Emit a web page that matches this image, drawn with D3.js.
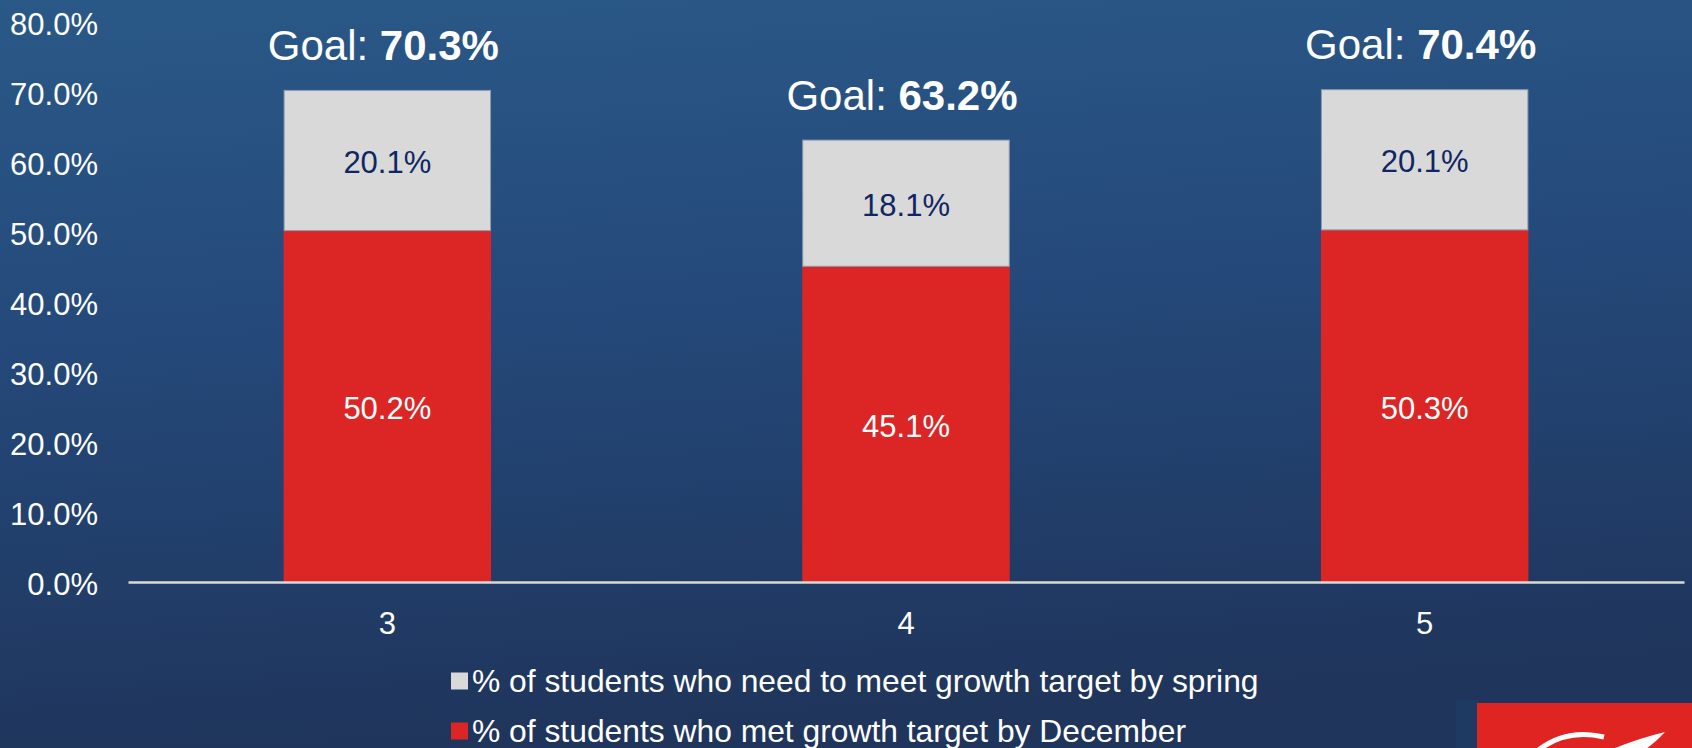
<!DOCTYPE html>
<html>
<head>
<meta charset="utf-8">
<script src="https://cdn.jsdelivr.net/npm/d3@7"></script>
<style>
  html, body { margin: 0; padding: 0; background: #22416a; }
  svg { display: block; font-family: Arial, "Liberation Sans", sans-serif; }
</style>
</head>
<body>
<svg id="chart" width="1692" height="748"></svg>
<script>
// ---- data ----
const categories = ["3", "4", "5"];
const metByDecember = [50.2, 45.1, 50.3];
const needBySpring = [20.1, 18.1, 20.1];
const goals = ["70.3%", "63.2%", "70.4%"];
const yTicks = [0, 10, 20, 30, 40, 50, 60, 70, 80];
const seriesNames = [
  "% of students who need to meet growth target by spring",
  "% of students who met growth target by December"
];

const W = 1692, H = 748;
const svg = d3.select("#chart");

// background gradient
const defs = svg.append("defs");
const bg = defs.append("linearGradient").attr("id", "bg")
  .attr("x1", 0).attr("y1", 0).attr("x2", 0.15).attr("y2", 1);
bg.append("stop").attr("offset", "0%").attr("stop-color", "#2a5987");
bg.append("stop").attr("offset", "45%").attr("stop-color", "#24497a");
bg.append("stop").attr("offset", "100%").attr("stop-color", "#1f355c");
svg.append("rect").attr("width", W).attr("height", H).attr("fill", "url(#bg)");

const x = d3.scaleBand().domain(categories).range([128, 1684])
  .paddingInner(0.6).paddingOuter(0.3);
const y = d3.scaleLinear().domain([0, 80]).range([582, 22]);

// y axis labels
const yAxis = d3.axisLeft(y).tickValues(yTicks)
  .tickFormat(d => d3.format(".1f")(d) + "%").tickSize(0).tickPadding(0);
const gy = svg.append("g").attr("transform", "translate(98,3)").call(yAxis);
gy.select(".domain").remove();
gy.selectAll("text").attr("fill", "#ffffff").attr("font-size", 31)
  .attr("font-family", "Arial, 'Liberation Sans', sans-serif");

// stacked data
const rows = categories.map((c, i) => ({
  cat: c, met: metByDecember[i], need: needBySpring[i], goal: goals[i]
}));

// red segments
svg.append("g").selectAll("rect").data(rows).join("rect")
  .attr("x", d => x(d.cat)).attr("width", x.bandwidth())
  .attr("y", d => y(d.met)).attr("height", d => y(0) - y(d.met))
  .attr("fill", "#dc2626");

// gray segments
svg.append("g").selectAll("rect").data(rows).join("rect")
  .attr("x", d => x(d.cat) + 0.5).attr("width", x.bandwidth() - 1)
  .attr("y", d => y(d.met + d.need) + 0.5).attr("height", d => y(d.met) - y(d.met + d.need) - 0.5)
  .attr("fill", "#d9d9d9").attr("stroke", "#8e9aac").attr("stroke-width", 1);

// value labels
svg.append("g").selectAll("text").data(rows).join("text")
  .attr("x", d => x(d.cat) + x.bandwidth() / 2)
  .attr("y", d => y(d.met / 2) + 2).attr("dy", "0.35em")
  .attr("text-anchor", "middle").attr("font-size", 31).attr("fill", "#ffffff")
  .text(d => d.met.toFixed(1) + "%");
svg.append("g").selectAll("text").data(rows).join("text")
  .attr("x", d => x(d.cat) + x.bandwidth() / 2)
  .attr("y", d => y(d.met + d.need / 2) + 2).attr("dy", "0.35em")
  .attr("text-anchor", "middle").attr("font-size", 31).attr("fill", "#0f2663")
  .text(d => d.need.toFixed(1) + "%");

// goal labels
const gl = svg.append("g").selectAll("text").data(rows).join("text")
  .attr("x", d => x(d.cat) + x.bandwidth() / 2 - 4)
  .attr("y", d => y(d.met + d.need) - 30)
  .attr("text-anchor", "middle").attr("font-size", 42).attr("fill", "#ffffff");
gl.append("tspan").text("Goal: ");
gl.append("tspan").attr("font-weight", "bold").text(d => d.goal);

// x axis
const xAxis = d3.axisBottom(x).tickSize(0).tickPadding(0);
const gx = svg.append("g").attr("transform", "translate(0,582)").call(xAxis);
gx.select(".domain").attr("stroke", "#d9d9d9").attr("stroke-width", 2.5);
gx.selectAll("text").attr("fill", "#ffffff").attr("font-size", 31)
  .attr("font-family", "Arial, 'Liberation Sans', sans-serif")
  .attr("y", 52).attr("dy", "0");

// legend
const legendColors = ["#d9d9d9", "#dc2626"];
const lg = svg.append("g").selectAll("g").data(seriesNames).join("g")
  .attr("transform", (d, i) => `translate(451,${681 + i * 50})`);
lg.append("rect").attr("x", 0).attr("y", -8.5).attr("width", 17).attr("height", 17)
  .attr("fill", (d, i) => legendColors[i]);
lg.append("text").attr("x", 21).attr("y", 0).attr("dy", "0.35em")
  .attr("font-size", 31.8).attr("fill", "#ffffff").text(d => d);

// logo (decorative, bottom right)
const logo = svg.append("g");
logo.append("rect").attr("x", 1456).attr("y", 700).attr("width", 22).attr("height", 48).attr("fill", "#1e3a62");
logo.append("rect").attr("x", 1477).attr("y", 703).attr("width", 215).attr("height", 45).attr("fill", "#e02422");
logo.append("path").attr("d", "M1536,752 Q1565,728 1604,737")
  .attr("fill", "none").attr("stroke", "#ffffff").attr("stroke-width", 5);
logo.append("path").attr("d", "M1615,748 Q1640,738 1665,732 Q1650,748 1640,752 Z")
  .attr("fill", "#ffffff");
</script>
</body>
</html>
